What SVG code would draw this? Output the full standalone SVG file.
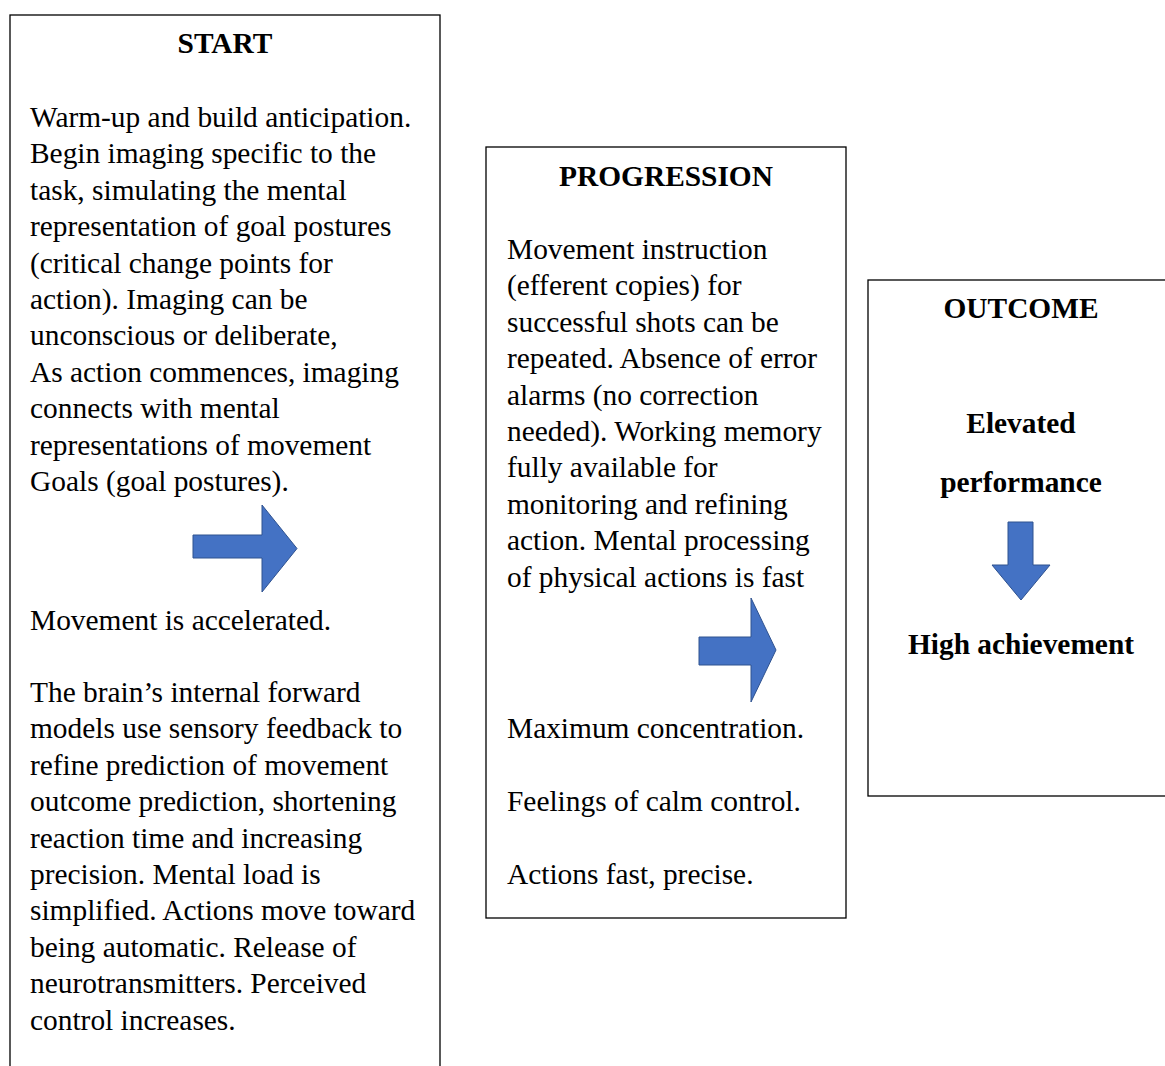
<svg xmlns="http://www.w3.org/2000/svg" width="1165" height="1066" viewBox="0 0 1165 1066">
<style>
.box{fill:#fff;stroke:#000;stroke-width:1.3}
.t{font-family:"Liberation Serif","Times New Roman",serif;font-size:29.4px;fill:#000}
.b{font-weight:bold;text-anchor:middle}
.arr{fill:#4472C4;stroke:#2F528F;stroke-width:1}
</style>
<rect width="1165" height="1066" fill="#fff"/>
<g id="start">
<rect class="box" x="10" y="15" width="430" height="1070"/>
<text class="t b" x="225" y="53">START</text>
<text class="t" x="30">
<tspan x="30" y="127">Warm-up and build anticipation.</tspan>
<tspan x="30" y="163.4">Begin imaging specific to the</tspan>
<tspan x="30" y="199.8">task, simulating the mental</tspan>
<tspan x="30" y="236.2">representation of goal postures</tspan>
<tspan x="30" y="272.6">(critical change points for</tspan>
<tspan x="30" y="309">action). Imaging can be</tspan>
<tspan x="30" y="345.4">unconscious or deliberate,</tspan>
<tspan x="30" y="381.8">As action commences, imaging</tspan>
<tspan x="30" y="418.2">connects with mental</tspan>
<tspan x="30" y="454.6">representations of movement</tspan>
<tspan x="30" y="491">Goals (goal postures).</tspan>
</text>
<text class="t" x="30" y="630">Movement is accelerated.</text>
<text class="t" x="30">
<tspan x="30" y="702">The brain’s internal forward</tspan>
<tspan x="30" y="738.4">models use sensory feedback to</tspan>
<tspan x="30" y="774.8">refine prediction of movement</tspan>
<tspan x="30" y="811.2">outcome prediction, shortening</tspan>
<tspan x="30" y="847.6">reaction time and increasing</tspan>
<tspan x="30" y="884">precision. Mental load is</tspan>
<tspan x="30" y="920.4">simplified. Actions move toward</tspan>
<tspan x="30" y="956.8">being automatic. Release of</tspan>
<tspan x="30" y="993.2">neurotransmitters. Perceived</tspan>
<tspan x="30" y="1029.6">control increases.</tspan>
</text>
</g>
<g id="progression">
<rect class="box" x="486" y="147" width="360" height="771"/>
<text class="t b" x="666" y="186">PROGRESSION</text>
<text class="t" x="507">
<tspan x="507" y="259">Movement instruction</tspan>
<tspan x="507" y="295.4">(efferent copies) for</tspan>
<tspan x="507" y="331.8">successful shots can be</tspan>
<tspan x="507" y="368.2">repeated. Absence of error</tspan>
<tspan x="507" y="404.6">alarms (no correction</tspan>
<tspan x="507" y="441">needed). Working memory</tspan>
<tspan x="507" y="477.4">fully available for</tspan>
<tspan x="507" y="513.8">monitoring and refining</tspan>
<tspan x="507" y="550.2">action. Mental processing</tspan>
<tspan x="507" y="586.6">of physical actions is fast</tspan>
</text>
<text class="t" x="507" y="738">Maximum concentration.</text>
<text class="t" x="507" y="811">Feelings of calm control.</text>
<text class="t" x="507" y="884">Actions fast, precise.</text>
</g>
<g id="outcome">
<rect class="box" x="868" y="280" width="320" height="516"/>
<text class="t b" x="1021" y="318">OUTCOME</text>
<text class="t b" x="1021" y="433">Elevated</text>
<text class="t b" x="1021" y="492">performance</text>
<text class="t b" x="1021" y="654">High achievement</text>
</g>
<g id="connectors">
<polygon class="arr" points="193,535 262,535 262,505 297,548.5 262,592 262,558 193,558"/>
<polygon class="arr" points="699,637 751,637 751,598 776,650 751,702 751,665 699,665"/>
<polygon class="arr" points="1008,522 1033,522 1033,565 1050,565 1021,600 992,565 1008,565"/>
</g>
</svg>
